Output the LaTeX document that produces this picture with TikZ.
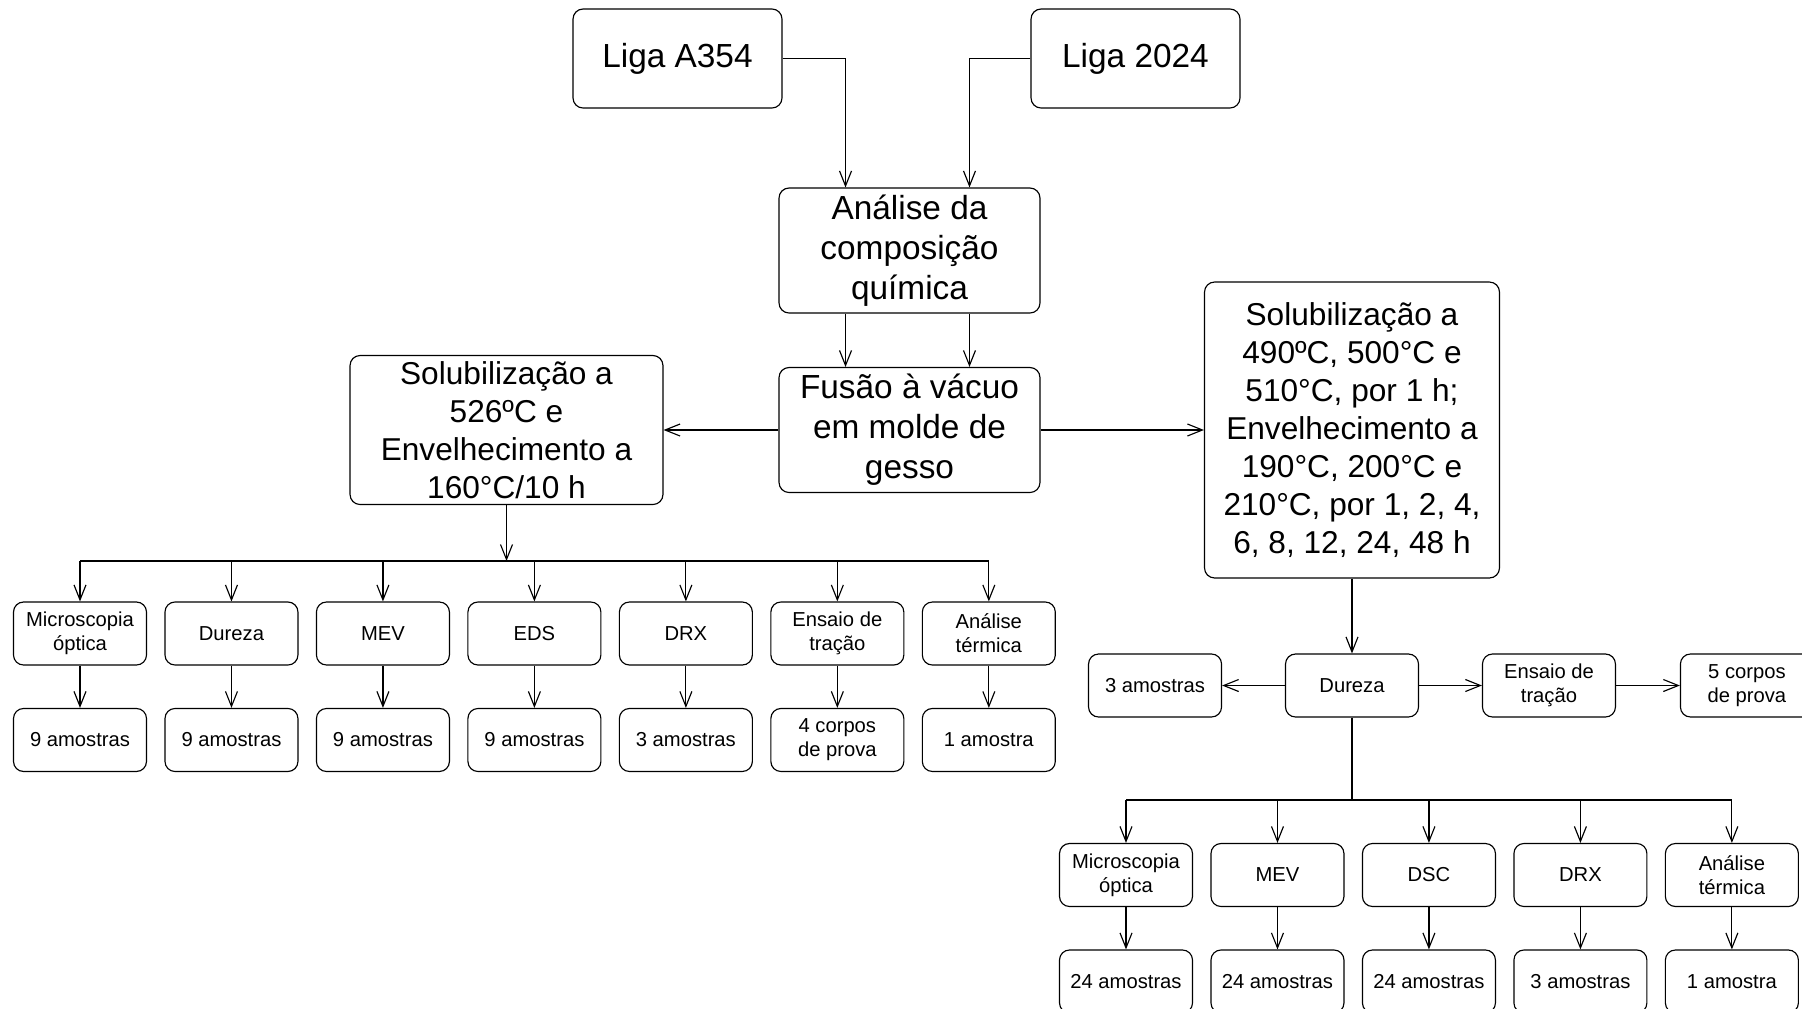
\documentclass[tikz,border=0pt]{standalone}
\usepackage{fontspec}
\setmainfont{Liberation Sans}
\usetikzlibrary{arrows.meta}

\tikzset{
	caixa/.style={draw,rounded corners=0.2cm,align=center,inner sep=1pt},
	grande/.style={caixa,font=\fontsize{19}{22.8}\selectfont},
	solub/.style={caixa,font=\fontsize{18}{21.7}\selectfont},
	caixinha/.style={caixa,minimum width=2.66cm,minimum height=1.26cm,font=\fontsize{11.5}{13.7}\selectfont},
	seta/.style={-{Straight Barb[length=0.3cm,width=0.24cm]}}
}

\begin{document}
\begin{tikzpicture}[x=0.02cm,y=-0.02cm,line width=0.65pt,node distance=3.03cm]
	\useasboundingbox (0,0) rectangle (1802,1008);
	\clip (0,0) rectangle (1802,1008);

	\node[grande,minimum width=4.18cm,minimum height=1.98cm] (ligaA) at (677.5,58.5) {Liga A354};
	\node[grande,minimum width=4.18cm,minimum height=1.98cm] (ligaB) at (1135.5,58.5) {Liga 2024};
	\node[grande,minimum width=5.22cm,minimum height=2.5cm] (analise) at (909.5,250.5) {Análise da\\composição\\química};
	\node[grande,minimum width=5.22cm,minimum height=2.5cm] (fusao) at (909.5,430) {Fusão à vácuo\\em molde de\\gesso};
	\node[solub,minimum width=6.26cm,minimum height=2.98cm] (solA) at (506.5,430) {Solubilização a\\526ºC e\\Envelhecimento a\\160°C/10 h};
	\node[solub,minimum width=5.9cm,minimum height=5.92cm] (solB) at (1352,430) {Solubilização a\\490ºC, 500°C e\\510°C, por 1 h;\\Envelhecimento a\\190°C, 200°C e\\210°C, por 1, 2, 4,\\6, 8, 12, 24, 48 h};

	\node[caixinha] (m1) at (80,633.5) {Microscopia\\óptica};
	\node[caixinha] (m2) [right of=m1] {Dureza};
	\node[caixinha] (m3) [right of=m2] {MEV};
	\node[caixinha] (m4) [right of=m3] {EDS};
	\node[caixinha] (m5) [right of=m4] {DRX};
	\node[caixinha] (m6) [right of=m5] {Ensaio de\\tração};
	\node[caixinha] (m7) [right of=m6] {Análise\\térmica};
	\node[caixinha] (a1) [node distance=2.13cm,below of=m1] {9 amostras};
	\node[caixinha] (a2) [node distance=2.13cm,below of=m2] {9 amostras};
	\node[caixinha] (a3) [node distance=2.13cm,below of=m3] {9 amostras};
	\node[caixinha] (a4) [node distance=2.13cm,below of=m4] {9 amostras};
	\node[caixinha] (a5) [node distance=2.13cm,below of=m5] {3 amostras};
	\node[caixinha] (a6) [node distance=2.13cm,below of=m6] {4 corpos\\de prova};
	\node[caixinha] (a7) [node distance=2.13cm,below of=m7] {1 amostra};

	\node[caixinha] (dur) at (1352,685.5) {Dureza};
	\node[caixinha] (tres) [node distance=3.94cm,left of=dur] {3 amostras};
	\node[caixinha] (ens) [node distance=3.94cm,right of=dur] {Ensaio de\\tração};
	\node[caixinha] (cinco) [node distance=3.96cm,right of=ens] {5 corpos\\de prova};

	\node[caixinha] (r1) at (1126,875) {Microscopia\\óptica};
	\node[caixinha] (r2) [right of=r1] {MEV};
	\node[caixinha] (r3) [right of=r2] {DSC};
	\node[caixinha] (r4) [right of=r3] {DRX};
	\node[caixinha] (r5) [right of=r4] {Análise\\térmica};
	\node[caixinha] (s1) [node distance=2.13cm,below of=r1] {24 amostras};
	\node[caixinha] (s2) [node distance=2.13cm,below of=r2] {24 amostras};
	\node[caixinha] (s3) [node distance=2.13cm,below of=r3] {24 amostras};
	\node[caixinha] (s4) [node distance=2.13cm,below of=r4] {3 amostras};
	\node[caixinha] (s5) [node distance=2.13cm,below of=r5] {1 amostra};

	\coordinate (busL) at (506.5,561);
	\coordinate (busR) at (1352,800);

	\draw (ligaA) [seta] -| ([xshift=-1.28cm]analise.north);
	\draw (ligaB) [seta] -| ([xshift=1.2cm]analise.north);
	\draw ([xshift=-1.28cm]analise.south) [seta] -- ([xshift=-1.28cm]fusao.north);
	\draw ([xshift=1.2cm]analise.south) [seta] -- ([xshift=1.2cm]fusao.north);
	\draw (fusao) [seta] -- (solA);
	\draw (fusao) [seta] -- (solB);

	\draw (solA) [seta] -- (busL);
	\draw (m1 |- busL) -- (m7 |- busL);
	\draw (m1 |- busL) [seta] -- (m1);
	\draw (m2 |- busL) [seta] -- (m2);
	\draw (m3 |- busL) [seta] -- (m3);
	\draw (m4 |- busL) [seta] -- (m4);
	\draw (m5 |- busL) [seta] -- (m5);
	\draw (m6 |- busL) [seta] -- (m6);
	\draw (m7 |- busL) [seta] -- (m7);
	\draw (m1) [seta] -- (a1);
	\draw (m2) [seta] -- (a2);
	\draw (m3) [seta] -- (a3);
	\draw (m4) [seta] -- (a4);
	\draw (m5) [seta] -- (a5);
	\draw (m6) [seta] -- (a6);
	\draw (m7) [seta] -- (a7);

	\draw (solB) [seta] -- (dur);
	\draw (dur) [seta] -- (tres);
	\draw (dur) [seta] -- (ens);
	\draw (ens) [seta] -- (cinco);
	\draw (dur) -- (busR);
	\draw (r1 |- busR) -- (r5 |- busR);
	\draw (r1 |- busR) [seta] -- (r1);
	\draw (r2 |- busR) [seta] -- (r2);
	\draw (r3 |- busR) [seta] -- (r3);
	\draw (r4 |- busR) [seta] -- (r4);
	\draw (r5 |- busR) [seta] -- (r5);
	\draw (r1) [seta] -- (s1);
	\draw (r2) [seta] -- (s2);
	\draw (r3) [seta] -- (s3);
	\draw (r4) [seta] -- (s4);
	\draw (r5) [seta] -- (s5);
\end{tikzpicture}
\end{document}
